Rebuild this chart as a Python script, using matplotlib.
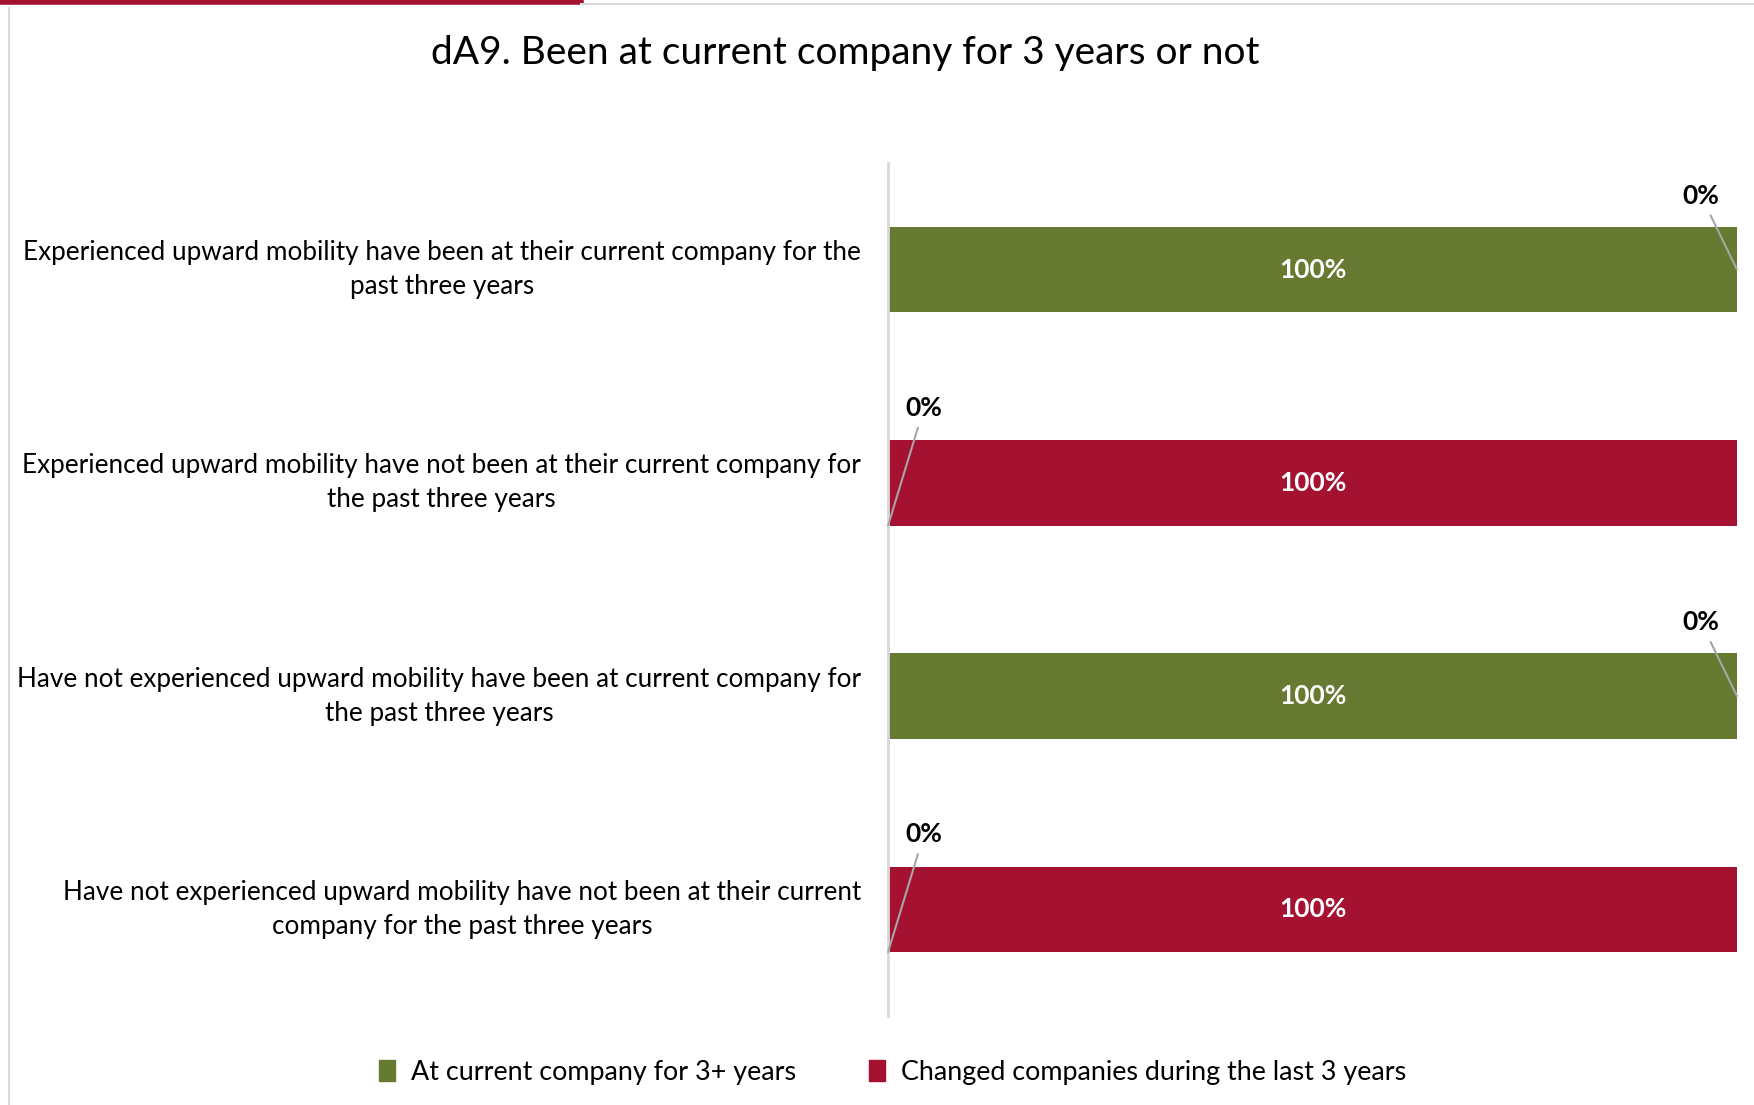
import numpy as np
import matplotlib.pyplot as plt
from matplotlib.lines import Line2D
from matplotlib.patches import Patch

plt.rcParams['font.family'] = ['Lato', 'DejaVu Sans']

# chart data
categories = [
    "Experienced upward mobility have been at their current company for the\npast three years",
    "Experienced upward mobility have not been at their current company for\nthe past three years",
    "Have not experienced upward mobility have been at current company for\nthe past three years",
    "Have not experienced upward mobility have not been at their current\ncompany for the past three years",
]
series_names = ["At current company for 3+ years", "Changed companies during the last 3 years"]
at_current = [100, 0, 100, 0]
changed = [0, 100, 0, 100]
colors = ["#677A32", "#A51131"]

fig = plt.figure(figsize=(17.54, 11.05), dpi=100)
ax = fig.add_axes([0.5063, 0.0805, 0.4840, 0.772])

y = np.arange(len(categories))
left = np.zeros(len(categories))
for vals, col in zip([at_current, changed], colors):
    vals = np.array(vals, dtype=float)
    ax.barh(y, vals, left=left, height=0.4, color=col)
    for i, v in enumerate(vals):
        if v >= 50:
            ax.text(left[i] + v / 2, i, f"{v:.0f}%", ha='center', va='center',
                    color='white', fontsize=19, fontweight='bold')
        elif v == 0:
            if left[i] > 0:
                # zero segment at the right end of a full bar
                xy, off = (left[i], i), (-36, 74)
            else:
                # zero segment at the start of the bar
                xy, off = (0, i + 0.2), (36, 118)
            ax.annotate(f"{v:.0f}%", xy=xy, xytext=off, textcoords='offset pixels',
                        ha='center', va='center', fontsize=19, fontweight='bold',
                        color='black',
                        arrowprops=dict(arrowstyle='-', color='#A6A6A6', lw=1.5,
                                        shrinkA=4, shrinkB=0))
    left = left + vals

ax.set_xlim(0, 100)
ax.set_ylim(len(categories) - 0.5, -0.5)
ax.set_yticks(y)
ax.set_yticklabels(categories, fontsize=18.8, multialignment='center', linespacing=1.45)
for lbl in ax.get_yticklabels():
    lbl.set_va('center')
ax.tick_params(axis='y', length=0, pad=19.5)
ax.set_xticks([])
for s in ['top', 'right', 'bottom']:
    ax.spines[s].set_visible(False)
ax.spines['left'].set_color('#D9D9D9')
ax.spines['left'].set_linewidth(2)

fig.text(0.482, 0.952, "dA9. Been at current company for 3 years or not",
         ha='center', va='center', fontsize=28)

handles = [Patch(color=c) for c in colors]
fig.legend(handles, series_names, loc='center', bbox_to_anchor=(0.509, 0.0297),
           ncol=2, frameon=False, fontsize=19.4, handlelength=0.6, handleheight=0.8,
           handletextpad=0.6, columnspacing=2.7)

# frame decorations
fig.add_artist(Line2D([0, 0.331], [0.998, 0.998], color='#A51131', lw=4,
                      transform=fig.transFigure))
fig.add_artist(Line2D([0.331, 1], [0.996, 0.996], color='#D9D9D9', lw=1.5,
                      transform=fig.transFigure))
fig.add_artist(Line2D([0.005, 0.005], [0, 0.993], color='#D9D9D9', lw=1.5,
                      transform=fig.transFigure))

fig.savefig('out.png', dpi=100)
